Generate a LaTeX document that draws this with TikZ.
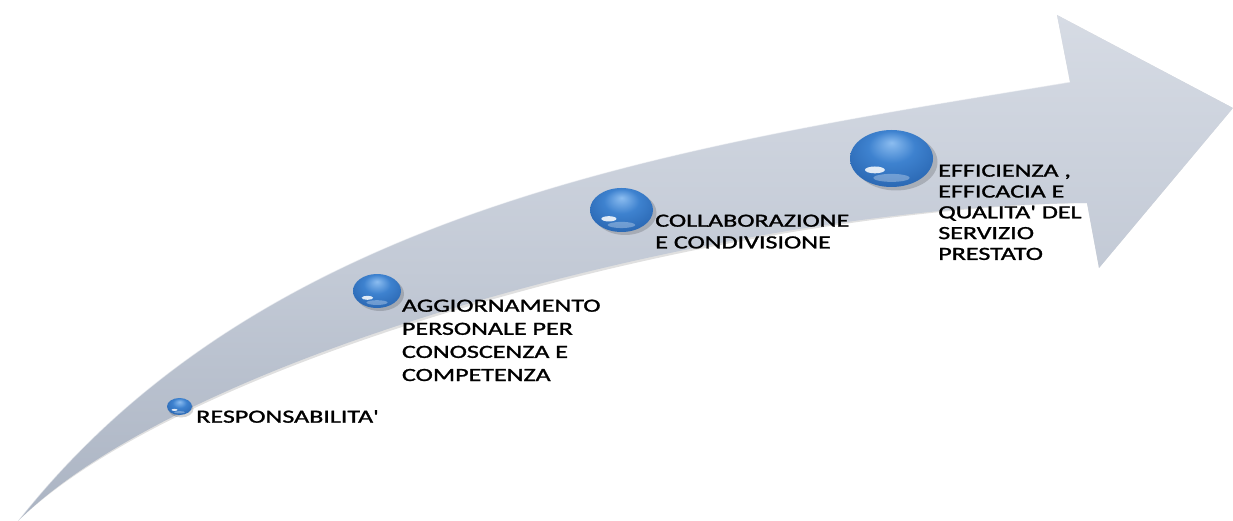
\documentclass[tikz,border=0pt]{standalone}
\usepackage{fontspec}
\newfontfamily\labfont[FakeBold=1.2]{Carlito}
\usetikzlibrary{shapes.geometric,calc}
\definecolor{arrtop}{HTML}{D6DBE4}
\definecolor{arrmid}{HTML}{C3CAD6}
\definecolor{arrbot}{HTML}{ABB4C3}
\definecolor{orbhi}{HTML}{8CBDF0}
\definecolor{orbmid}{HTML}{3E82CF}
\definecolor{orbdark}{HTML}{2763AE}
\definecolor{orbrim}{HTML}{1D4F90}
\pgfdeclareradialshading{orbshade}{\pgfpoint{0bp}{14bp}}{%
  color(0bp)=(orbhi); color(14bp)=(orbmid); color(34bp)=(orbdark); color(46bp)=(orbrim); color(50bp)=(orbrim)}
\newcommand\labstack[1]{\vtop{\halign{##\hfil\cr#1\crcr}}}
\tikzset{
  orb/.style={ellipse, inner sep=0pt, shading=orbshade,
    path picture={
      \path (path picture bounding box.south west) coordinate (sw)
            (path picture bounding box.north east) coordinate (ne);
      \fill[white, opacity=.85] let \p1=($(ne)-(sw)$) in
        ($(sw)!.3!(ne)$) ellipse [x radius=.12*\x1, y radius=.06*\y1];
      \fill[white, opacity=.3] let \p1=($(ne)-(sw)$) in
        ($(sw)!.5!(ne)+(0,-.34*\y1)$) ellipse [x radius=.22*\x1, y radius=.07*\y1];
    }},
  orbshadow/.style={fill=black, opacity=.16},
  lab/.style={anchor=base west, inner sep=0pt, xscale=1.4,
    font=\labfont\fontsize{18.6}{22}\selectfont, text=black},
  arrowbody/.style={top color=arrtop, bottom color=arrbot, middle color=arrmid},
}
\begin{document}
\begin{tikzpicture}[x=1pt,y=-1pt]
\useasboundingbox (0,0) rectangle (1233,521);
% arrow outline points
\coordinate (tail) at (18,521);
\coordinate (notchT) at (1070,82);
\coordinate (headT) at (1057,15);
\coordinate (tip) at (1233,108);
\coordinate (headB) at (1099,268);
\coordinate (notchB) at (1087,203);
% soft shadow
\fill[black, opacity=.12, shift={(2,3)}] (tail) .. controls (266,206) and (680,146) .. (notchT)
  -- (headT) -- (tip) -- (headB) -- (notchB) .. controls (737,205) and (190,350) .. (tail) -- cycle;
% arrow
\path[arrowbody] (tail) .. controls (266,206) and (680,146) .. (notchT)
  -- (headT) -- (tip) -- (headB) -- (notchB) .. controls (737,205) and (190,350) .. (tail) -- cycle;
\draw[white, opacity=.5, line width=1pt] (tail) .. controls (266,206) and (680,146) .. (notchT);
% orbs
\fill[orbshadow] (181,409) ellipse [x radius=12.5, y radius=8.5];
\node[orb, minimum width=25pt, minimum height=17pt] (o1) at (179.5,406.5) {};
\fill[orbshadow] (380,294) ellipse [x radius=24, y radius=17];
\node[orb, minimum width=48pt, minimum height=34pt] (o2) at (377,291) {};
\fill[orbshadow] (625,213) ellipse [x radius=31.5, y radius=22];
\node[orb, minimum width=63pt, minimum height=44pt] (o3) at (621.5,210) {};
\fill[orbshadow] (896,162) ellipse [x radius=41.5, y radius=28.5];
\node[orb, minimum width=83pt, minimum height=57pt] (o4) at (891.5,158.5) {};
% labels
\node[lab] (t1) at (196,422.7) {RESPONSABILITA'};
\node[lab, font=\labfont\fontsize{18.6}{23.1}\selectfont] (t2) at (401.7,311.7) {\labstack{AGGIORNAMENTO\cr PERSONALE PER\cr CONOSCENZA E\cr COMPETENZA}};
\node[lab, font=\labfont\fontsize{18.6}{21.7}\selectfont] (t3) at (655,226.7) {\labstack{COLLABORAZIONE\cr E CONDIVISIONE}};
\node[lab, font=\labfont\fontsize{18.6}{20.8}\selectfont] (t4) at (938,176.7) {\labstack{EFFICIENZA ,\cr EFFICACIA E\cr QUALITA' DEL\cr SERVIZIO\cr PRESTATO}};
\end{tikzpicture}
\end{document}
